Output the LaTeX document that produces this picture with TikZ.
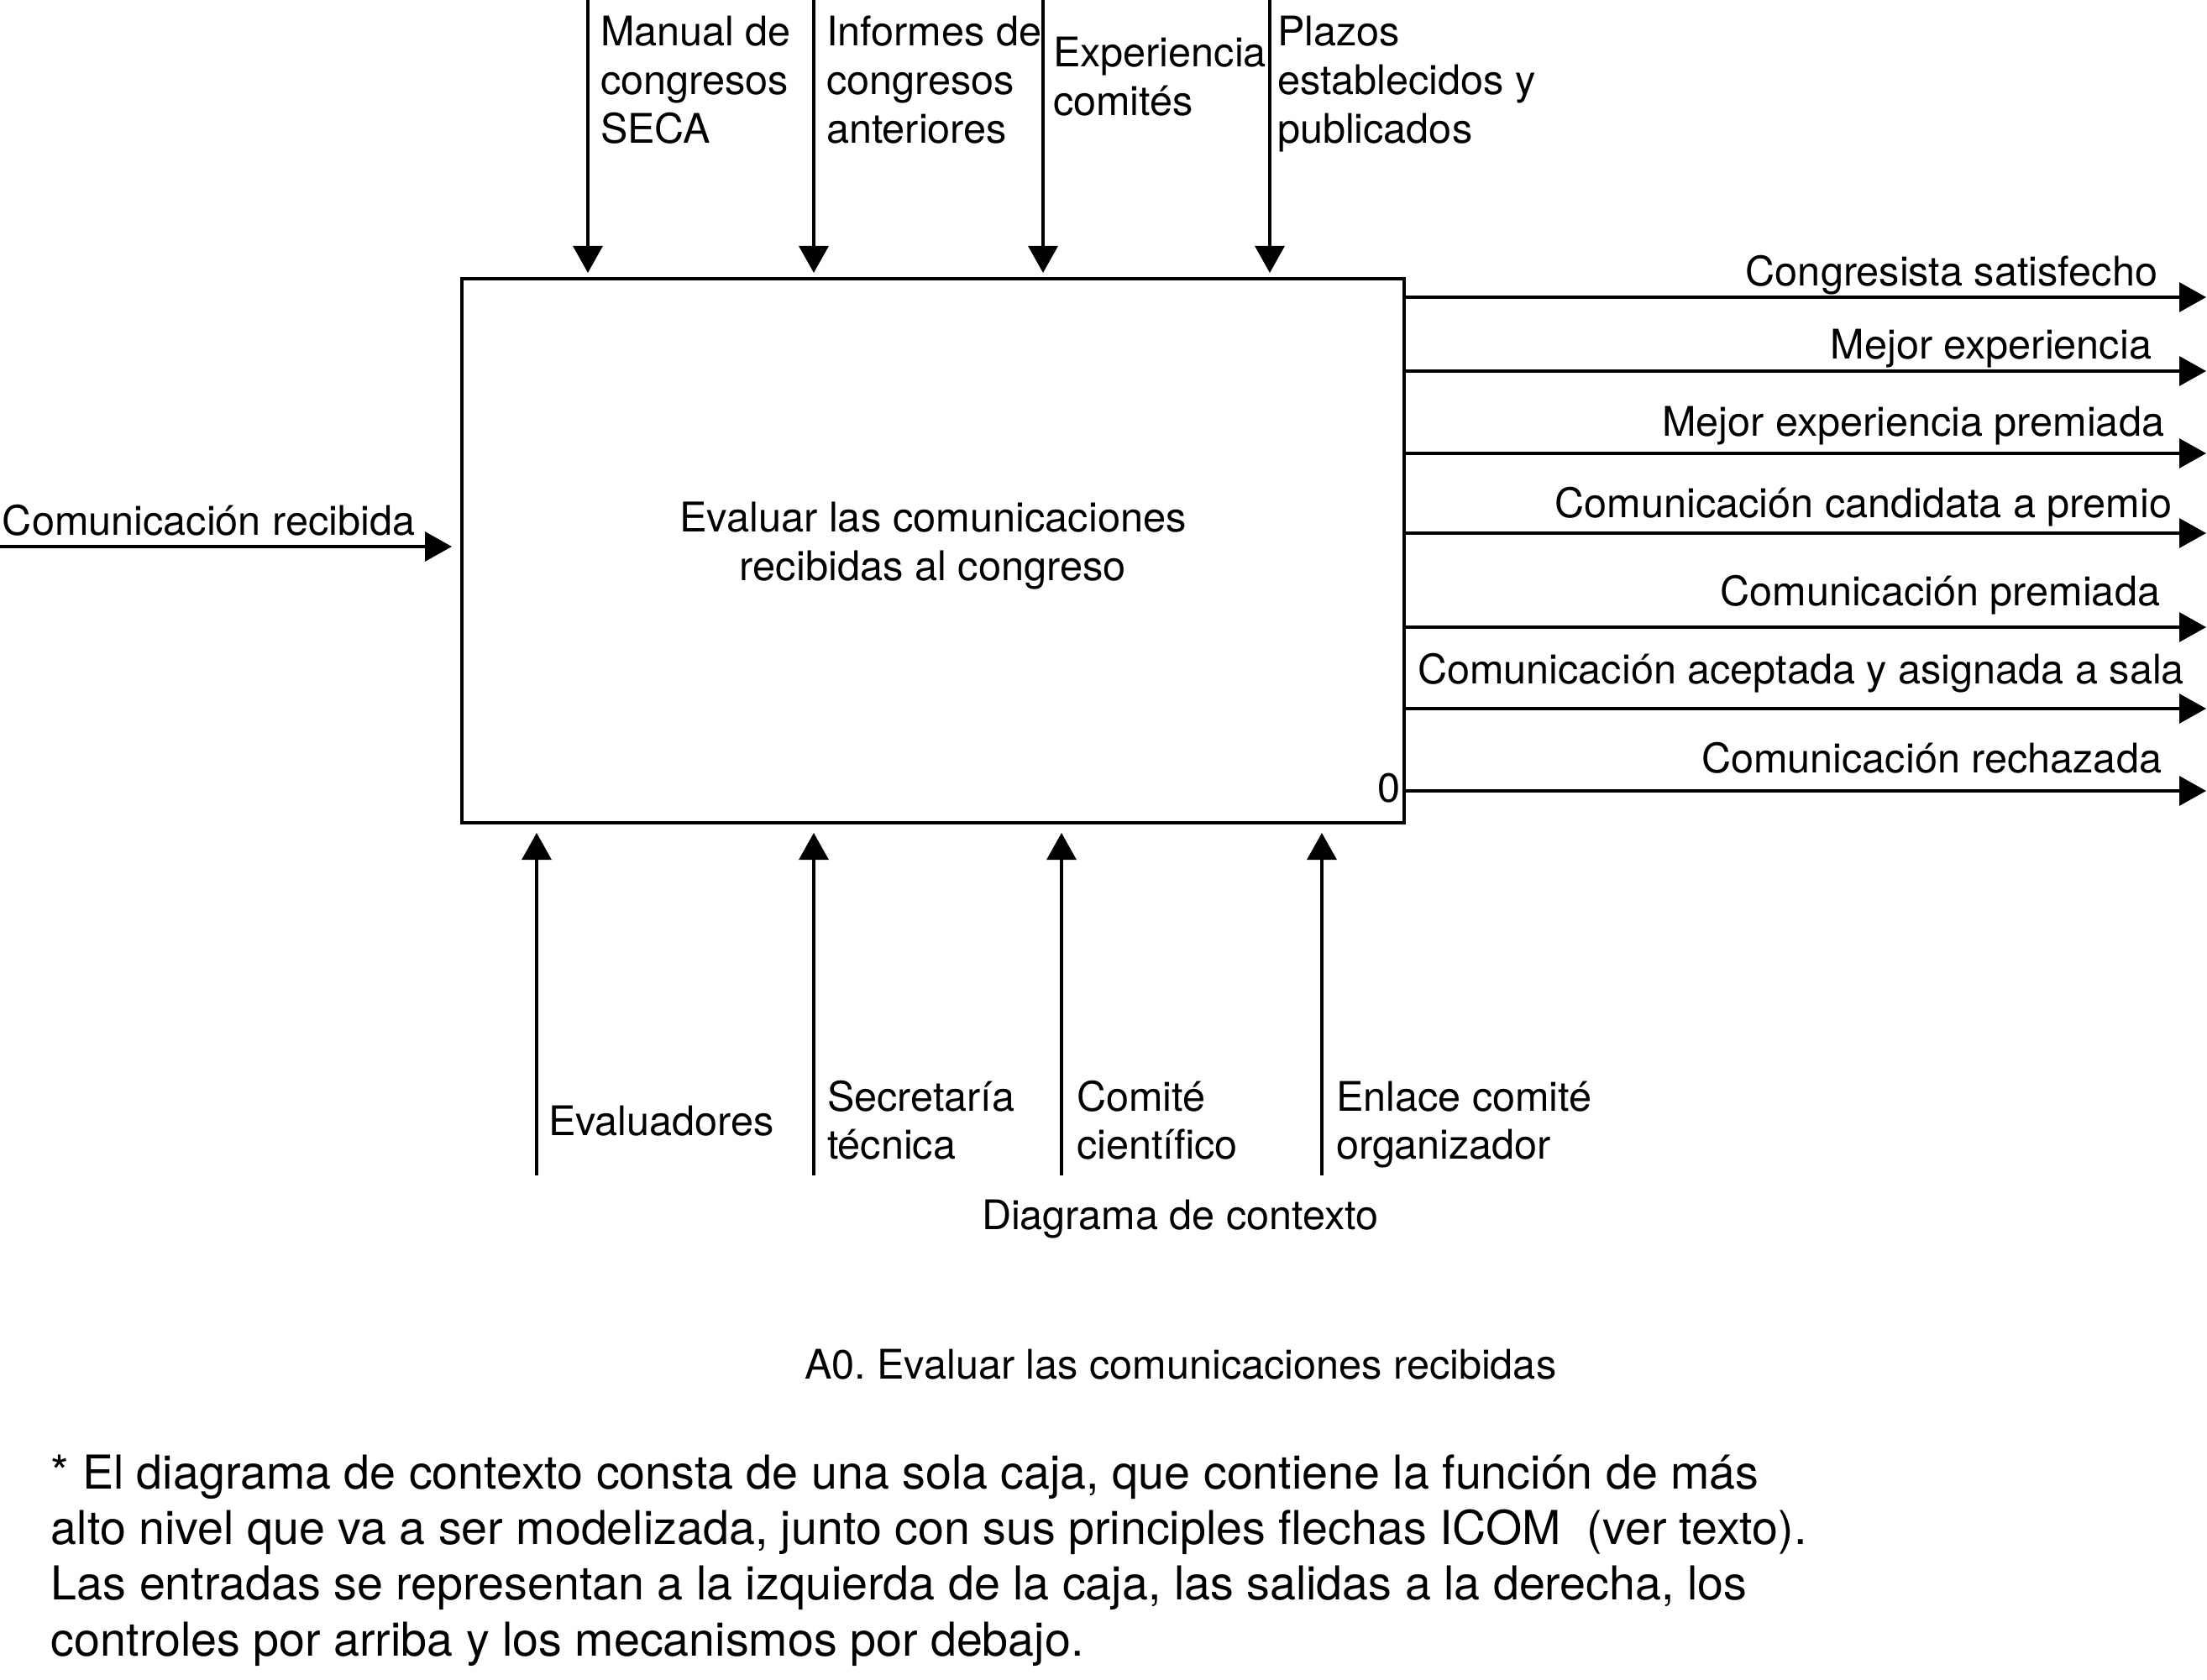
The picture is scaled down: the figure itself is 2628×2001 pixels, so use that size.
\documentclass[tikz,border=0pt]{standalone}
\usepackage{fontspec}
\setmainfont{TeX Gyre Heros}
\usetikzlibrary{arrows.meta}
\frenchspacing
\newcommand{\mlines}[2]{\begin{tabular}[t]{@{}#1@{}}#2\end{tabular}}
\begin{document}
\begin{tikzpicture}[x=0.25pt,y=-0.25pt,
  lbl/.style={inner sep=0pt, outer sep=0pt, font=\fontsize{12.15}{14.4}\selectfont},
  procbox/.style={draw, line width=1pt, inner sep=0pt, font=\fontsize{12.2}{14.4}\selectfont},
  arr/.style={line width=0.8pt, -{Triangle[length=8pt,width=8.75pt]}},
  note/.style={inner sep=0pt, outer sep=0pt, font=\fontsize{13.9}{16.6}\selectfont}]
\useasboundingbox (0,0) rectangle (2628,2001);

% activity box
\node[procbox, minimum width=280.5pt, minimum height=162pt] (a0) at (1111,656)
  {\raisebox{1.25pt}[\height][\depth]{\mlines{c}{Evaluar las comunicaciones\\recibidas al congreso}}};
\node[lbl, anchor=base east] (a0num) at (1668,955) {0};

% input
\coordinate (in1) at (0,651);
\draw[arr, shorten >=2.5pt] (in1) -- (in1 -| a0.west);
\node[lbl, anchor=base west] (in1l) at (3,638) {Comunicación recibida};

% controls
\coordinate (c1) at (700,0);
\coordinate (c2) at (969,0);
\coordinate (c3) at (1242,0);
\coordinate (c4) at (1512,0);
\foreach \c in {c1,c2,c3,c4}{
  \draw[arr, shorten >=1.25pt] (\c) -- (\c |- a0.north);
}
\node[lbl, anchor=base west] (c1l) at (715,55) {\mlines{l}{Manual de\\congresos\\SECA}};
\node[lbl, anchor=base west] (c2l) at (984,55) {\mlines{l}{Informes de\\congresos\\anteriores}};
\node[lbl, anchor=base west] (c3l) at (1254,80) {\mlines{l}{Experiencia\\comités}};
\node[lbl, anchor=base west] (c4l) at (1521,55) {\mlines{l}{Plazos\\establecidos y\\publicados}};

% outputs
\coordinate (o1) at (2627,354);
\coordinate (o2) at (2627,442);
\coordinate (o3) at (2627,540);
\coordinate (o4) at (2627,635);
\coordinate (o5) at (2627,747);
\coordinate (o6) at (2627,844);
\coordinate (o7) at (2627,942);
\foreach \o in {o1,o2,o3,o4,o5,o6,o7}{
  \draw[arr] (\o -| a0.east) -- (\o);
}
\node[lbl, anchor=base east] (o1l) at (2569,341) {Congresista satisfecho};
\node[lbl, anchor=base east] (o2l) at (2562,427) {Mejor experiencia};
\node[lbl, anchor=base east] (o3l) at (2577,520) {Mejor experiencia premiada};
\node[lbl, anchor=base east] (o4l) at (2586,616) {Comunicación candidata a premio};
\node[lbl, anchor=base east] (o5l) at (2572,721) {Comunicación premiada};
\node[lbl, anchor=base east] (o6l) at (2601,815) {Comunicación aceptada y asignada a sala};
\node[lbl, anchor=base east] (o7l) at (2574,920) {Comunicación rechazada};

% mechanisms
\coordinate (m1) at (639,1400);
\coordinate (m2) at (969,1400);
\coordinate (m3) at (1264,1400);
\coordinate (m4) at (1574,1400);
\foreach \m in {m1,m2,m3,m4}{
  \draw[arr, shorten >=2.5pt] (\m) -- (\m |- a0.south);
}
\node[lbl, anchor=base west] (m1l) at (653,1352) {Evaluadores};
\node[lbl, anchor=base west] (m2l) at (985,1323) {\mlines{l}{Secretaría\\técnica}};
\node[lbl, anchor=base west] (m3l) at (1282,1323) {\mlines{l}{Comité\\científico}};
\node[lbl, anchor=base west] (m4l) at (1591,1323) {\mlines{l}{Enlace comité\\organizador}};

% captions
\node[lbl, anchor=base west] (ctx) at (1169,1464) {Diagrama de contexto};
\node[lbl, anchor=base west] (cap) at (958,1642) {A0. Evaluar las comunicaciones recibidas};
\node[note, anchor=base west] (nota) at (61,1773) {\mlines{l}{%
* El diagrama de contexto consta de una sola caja, que contiene la función de más\\
alto nivel que va a ser modelizada, junto con sus principles flechas ICOM\ \ (ver texto).\\
Las entradas se representan a la izquierda de la caja, las salidas a la derecha, los\\
controles por arriba y los mecanismos por debajo.}};
\end{tikzpicture}
\end{document}
